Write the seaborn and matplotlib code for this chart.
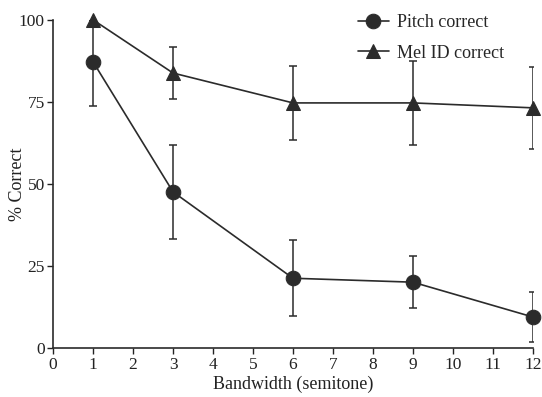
import numpy as np
import pandas as pd
import matplotlib
matplotlib.use("Agg")
import matplotlib.pyplot as plt
import seaborn as sns

# values
bandwidth = [1, 3, 6, 9, 12]
pitch_correct = [87.2, 47.6, 21.3, 20.1, 9.5]
pitch_err = [13.5, 14.2, 11.6, 8.0, 7.6]
mel_correct = [100.0, 83.8, 74.7, 74.7, 73.2]
mel_err = [0.0, 7.8, 11.2, 12.8, 12.5]
series_names = ["Pitch correct", "Mel ID correct"]
x_ticks = list(range(0, 13))
y_ticks = [0, 25, 50, 75, 100]

sns.set_style("ticks")
plt.rcParams["font.family"] = ["Liberation Serif", "DejaVu Serif"]

df = pd.DataFrame({
    "Bandwidth": bandwidth * 2,
    "Correct": pitch_correct + mel_correct,
    "err": pitch_err + mel_err,
    "series": [series_names[0]] * len(bandwidth) + [series_names[1]] * len(bandwidth),
})

fig = plt.figure(figsize=(5.42, 3.97), dpi=100)
ax = fig.add_axes([0.098, 0.123, 0.885, 0.827])

col = "#2b2b2b"
for name in series_names:
    sub = df[df["series"] == name]
    ax.errorbar(sub["Bandwidth"], sub["Correct"], yerr=sub["err"], fmt="none",
                ecolor=col, elinewidth=1.1, capsize=3, capthick=1.1, zorder=2)

sns.lineplot(data=df, x="Bandwidth", y="Correct", style="series", markers=["o", "^"],
             dashes=False, color=col, linewidth=1.2, markersize=10.5,
             markeredgecolor=col, ax=ax, zorder=3, clip_on=False)

ax.set_xlim(0, 12)
ax.set_ylim(0, 100)
ax.set_xticks(x_ticks)
ax.set_yticks(y_ticks)
ax.set_xlabel("Bandwidth (semitone)", fontsize=13, color="#222222", labelpad=2)
ax.set_ylabel("% Correct", fontsize=13, color="#222222")
ax.yaxis.set_label_coords(-0.056, 0.5)
ax.tick_params(labelsize=12.5, colors="#222222", length=4, width=1, pad=2)
for s in ["left", "bottom"]:
    ax.spines[s].set_linewidth(1.2)
    ax.spines[s].set_color(col)
sns.despine(ax=ax)

leg = ax.legend(title=None, frameon=False, fontsize=13, loc="upper left",
                bbox_to_anchor=(358 / 542, 1 - 14 / 397), bbox_transform=fig.transFigure,
                borderaxespad=0, borderpad=0, handlelength=1.7, handletextpad=0.45,
                labelspacing=0.75)

fig.savefig("out.png", dpi=100)
